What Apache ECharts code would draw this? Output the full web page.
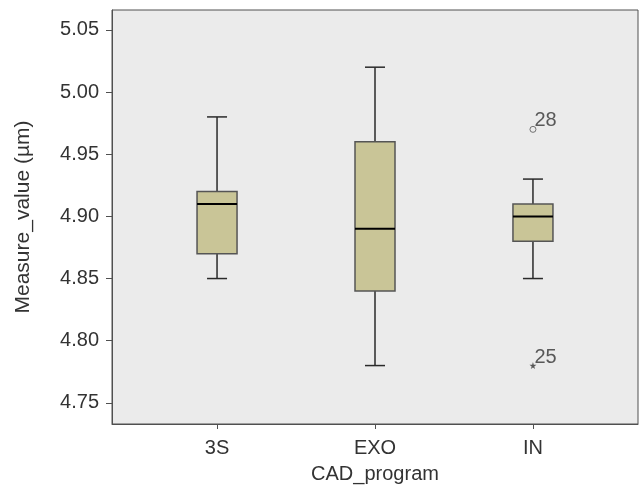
<!DOCTYPE html>
<html>
<head>
<meta charset="utf-8">
<script src="https://cdn.jsdelivr.net/npm/echarts@6/dist/echarts.min.js"></script>
<style>
  html, body { margin: 0; padding: 0; background: #fff; }
  #chart { width: 640px; height: 489px; }
</style>
</head>
<body>
<div id="chart"></div>
<script>
const categories = ['3S', 'EXO', 'IN'];
const lows    = [4.85, 4.78, 4.85];
const q1s     = [4.87, 4.84, 4.88];
const medians = [4.91, 4.89, 4.90];
const q3s     = [4.92, 4.96, 4.91];
const highs   = [4.98, 5.02, 4.93];
const yTicks  = [4.75, 4.80, 4.85, 4.90, 4.95, 5.00, 5.05];

// outliers: [category index, value, case label]
const circleOutliers = [[2, 4.97, '28']];
const starOutliers   = [[2, 4.78, '25']];

const boxRows = categories.map((c, i) => [i + 1, lows[i], q1s[i], medians[i], q3s[i], highs[i]]);

const textColor = '#333';
const lineColor = '#505050';
const font = 'Liberation Sans';

const chart = echarts.init(document.getElementById('chart'));

function renderBox(params, api) {
  const x = api.value(0);
  const pLow = api.coord([x, api.value(1)]);
  const pQ1 = api.coord([x, api.value(2)]);
  const pMed = api.coord([x, api.value(3)]);
  const pQ3 = api.coord([x, api.value(4)]);
  const pHigh = api.coord([x, api.value(5)]);
  const half = 20, cap = 10;
  const cx = pMed[0];
  const lineStyle = { stroke: '#2a2a2a', lineWidth: 1.5 };
  return {
    type: 'group',
    children: [
      { type: 'line', shape: { x1: cx, y1: pQ3[1], x2: cx, y2: pHigh[1] }, style: lineStyle },
      { type: 'line', shape: { x1: cx, y1: pQ1[1], x2: cx, y2: pLow[1] }, style: lineStyle },
      { type: 'line', shape: { x1: cx - cap, y1: pHigh[1], x2: cx + cap, y2: pHigh[1] }, style: lineStyle },
      { type: 'line', shape: { x1: cx - cap, y1: pLow[1], x2: cx + cap, y2: pLow[1] }, style: lineStyle },
      {
        type: 'rect',
        shape: { x: cx - half, y: pQ3[1], width: half * 2, height: pQ1[1] - pQ3[1] },
        style: { fill: '#c9c597', stroke: '#555', lineWidth: 1.5 }
      },
      { type: 'line', shape: { x1: cx - half, y1: pMed[1], x2: cx + half, y2: pMed[1] }, style: { stroke: '#000', lineWidth: 2 } }
    ]
  };
}

const outlierLabel = {
  show: true,
  formatter: p => p.data[2],
  position: [5, 5],
  verticalAlign: 'bottom',
  color: textColor,
  fontFamily: font,
  fontSize: 20
};

chart.setOption({
  animation: false,
  grid: {
    left: 112, right: 2, top: 10, bottom: 63,
    show: true,
    backgroundColor: '#ebebeb',
    borderColor: lineColor,
    borderWidth: 1
  },
  xAxis: {
    type: 'value',
    min: 0.335,
    max: 3.665,
    name: 'CAD_program',
    nameLocation: 'middle',
    nameGap: 40,
    nameTextStyle: { color: textColor, fontFamily: font, fontSize: 20 },
    axisLine: { show: true, lineStyle: { color: lineColor, width: 1 } },
    axisTick: { show: true, length: 5, customValues: [1, 2, 3], lineStyle: { color: lineColor } },
    axisLabel: {
      customValues: [1, 2, 3],
      formatter: v => categories[Math.round(v) - 1],
      margin: 14,
      color: textColor,
      fontFamily: font,
      fontSize: 20
    },
    splitLine: { show: false }
  },
  yAxis: {
    type: 'value',
    min: 4.733,
    max: 5.066,
    name: 'Measure_value (µm)',
    nameLocation: 'middle',
    nameGap: 78,
    nameTextStyle: { color: textColor, fontFamily: font, fontSize: 21 },
    axisLine: { show: true, lineStyle: { color: lineColor, width: 1 } },
    axisTick: { show: true, length: 6, customValues: yTicks, lineStyle: { color: lineColor } },
    axisLabel: {
      customValues: yTicks,
      formatter: v => v.toFixed(2),
      margin: 13,
      color: textColor,
      fontFamily: font,
      fontSize: 20
    },
    splitLine: { show: false }
  },
  series: [
    {
      type: 'custom',
      renderItem: renderBox,
      encode: { x: 0, y: [1, 2, 3, 4, 5] },
      data: boxRows
    },
    {
      type: 'scatter',
      symbol: 'circle',
      symbolSize: 6,
      itemStyle: { color: '#ebebeb', borderColor: '#555', borderWidth: 1 },
      label: outlierLabel,
      data: circleOutliers.map(o => [o[0] + 1, o[1], o[2]])
    },
    {
      type: 'scatter',
      symbol: 'path://M50,0 L61,35 L98,35 L68,57 L79,91 L50,70 L21,91 L32,57 L2,35 L39,35 Z',
      symbolSize: 7,
      itemStyle: { color: '#333' },
      label: outlierLabel,
      data: starOutliers.map(o => [o[0] + 1, o[1], o[2]])
    }
  ]
});
</script>
</body>
</html>
